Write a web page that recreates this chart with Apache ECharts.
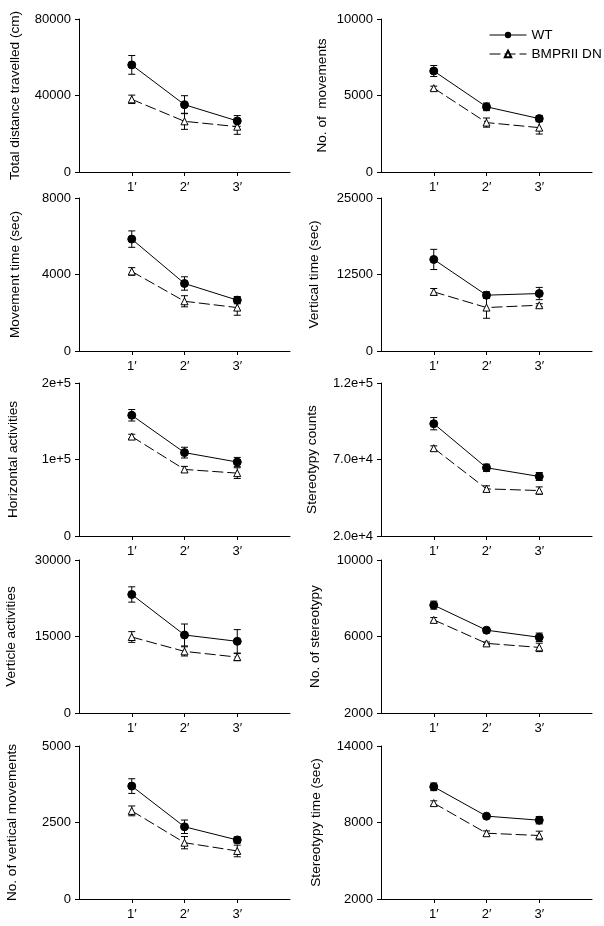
<!DOCTYPE html>
<html>
<head>
<meta charset="utf-8">
<script src="https://cdn.jsdelivr.net/npm/echarts@6/dist/echarts.min.js"></script>
<style>
  html, body { margin: 0; padding: 0; background: #fff; }
  #chart { width: 604px; height: 926px; }
</style>
</head>
<body>
<div id="chart"></div>
<script>
// session time points (x positions 1..3 on a 0..4 axis)
const timePoints = ['1′', '2′', '3′'];
const seriesNames = ['WT', 'BMPRII DN'];

// panels, row by row (left, right)
const panelNames = [
  'Total distance travelled (cm)', 'No. of  movements',
  'Movement time (sec)', 'Vertical time (sec)',
  'Horizontal activities', 'Stereotypy counts',
  'Verticle activities', 'No. of stereotypy',
  'No. of vertical movements', 'Stereotypy time (sec)'
];
const yMin = [0, 0, 0, 0, 0, 20000, 0, 2000, 0, 2000];
const yMax = [80000, 10000, 8000, 25000, 200000, 120000, 30000, 10000, 5000, 14000];
const yStep = [40000, 5000, 4000, 12500, 100000, 50000, 15000, 4000, 2500, 6000];
const yTicks = [
  ['0', '40000', '80000'], ['0', '5000', '10000'],
  ['0', '4000', '8000'], ['0', '12500', '25000'],
  ['0', '1e+5', '2e+5'], ['2.0e+4', '7.0e+4', '1.2e+5'],
  ['0', '15000', '30000'], ['2000', '6000', '10000'],
  ['0', '2500', '5000'], ['2000', '8000', '14000']
];

// means and SEM per panel
const wtMean = [
  [56000, 35200, 26700], [6600, 4260, 3490],
  [5850, 3530, 2660], [14960, 9120, 9390],
  [157800, 109000, 96700], [93400, 64600, 58900],
  [23240, 15300, 14050], [7640, 6330, 5960],
  [3690, 2360, 1930], [10800, 8500, 8180]
];
const wtSem = [
  [4900, 4700, 2800], [360, 250, 200],
  [430, 350, 190], [1650, 550, 1000],
  [7500, 7000, 6000], [4000, 2400, 2600],
  [1500, 2150, 2300], [210, 140, 220],
  [240, 220, 100], [300, 130, 290]
];
const dnMean = [
  [38000, 26500, 23700], [5480, 3230, 2900],
  [4160, 2600, 2270], [9660, 7100, 7480],
  [130000, 87000, 82200], [77400, 50800, 49700],
  [14900, 12080, 10960], [6870, 5640, 5430],
  [2880, 1840, 1570], [9520, 7160, 6980]
];
const dnSem = [
  [2200, 4200, 4000], [130, 300, 420],
  [200, 290, 400], [550, 1750, 250],
  [3000, 4000, 7000], [1500, 2000, 2400],
  [1050, 900, 700], [120, 70, 220],
  [160, 200, 190], [180, 180, 340]
];

const colLeft = [79, 381];
const rowTop = [19, 198, 383, 560, 746];
const nameGaps = [57, 52, 57, 60, 59, 62, 61, 59, 60, 58];

const chart = echarts.init(document.getElementById('chart'));

const txt = { color: '#000', fontSize: 13, fontFamily: 'Liberation Sans, Arial, sans-serif' };
const nameTxt = Object.assign({}, txt, { fontSize: 13.6 });

function errorBars(p, means, sems) {
  return {
    type: 'custom',
    xAxisIndex: p,
    yAxisIndex: p,
    z: 1,
    silent: true,
    encode: { x: 0, y: [1, 2] },
    data: means.map((m, i) => [i + 1, m - sems[i], m + sems[i]]),
    renderItem: function (params, api) {
      const x = api.value(0);
      const lo = api.coord([x, api.value(1)]);
      const hi = api.coord([x, api.value(2)]);
      const hw = 3.5;
      const st = { stroke: '#000', lineWidth: 1 };
      return {
        type: 'group',
        children: [
          { type: 'line', shape: { x1: lo[0], y1: lo[1], x2: hi[0], y2: hi[1] }, style: st },
          { type: 'line', shape: { x1: lo[0] - hw, y1: lo[1], x2: lo[0] + hw, y2: lo[1] }, style: st },
          { type: 'line', shape: { x1: hi[0] - hw, y1: hi[1], x2: hi[0] + hw, y2: hi[1] }, style: st }
        ]
      };
    }
  };
}

const grids = [], xAxes = [], yAxes = [], series = [];

for (let p = 0; p < panelNames.length; p++) {
  const r = Math.floor(p / 2), c = p % 2;
  grids.push({ left: colLeft[c], top: rowTop[r], width: 211, height: 153 });

  xAxes.push({
    type: 'value', gridIndex: p, min: 0, max: 4,
    splitLine: { show: false },
    axisLine: { lineStyle: { color: '#000', width: 1 } },
    axisTick: { length: 4, customValues: [1, 2, 3], lineStyle: { color: '#000' } },
    axisLabel: Object.assign({
      margin: 9,
      customValues: [1, 2, 3],
      formatter: v => timePoints[Math.round(v) - 1]
    }, txt)
  });

  yAxes.push({
    type: 'value', gridIndex: p,
    min: yMin[p], max: yMax[p], interval: yStep[p],
    splitLine: { show: false },
    axisLine: { show: true, lineStyle: { color: '#000', width: 1 } },
    axisTick: { show: true, length: 4, lineStyle: { color: '#000' } },
    axisLabel: Object.assign({
      margin: 8,
      formatter: v => yTicks[p][Math.round((v - yMin[p]) / yStep[p])]
    }, txt),
    name: panelNames[p],
    nameLocation: 'middle',
    nameGap: nameGaps[p],
    nameTextStyle: nameTxt
  });

  series.push(errorBars(p, wtMean[p], wtSem[p]));
  series.push(errorBars(p, dnMean[p], dnSem[p]));

  series.push({
    name: seriesNames[1], type: 'line', xAxisIndex: p, yAxisIndex: p, z: 2,
    data: dnMean[p].map((v, i) => [i + 1, v]),
    symbol: 'triangle', symbolSize: 7,
    lineStyle: { color: '#000', width: 1, type: [11, 4] },
    itemStyle: { color: '#fff', borderColor: '#000', borderWidth: 1 },
    emphasis: { disabled: true }
  });
  series.push({
    name: seriesNames[0], type: 'line', xAxisIndex: p, yAxisIndex: p, z: 3,
    data: wtMean[p].map((v, i) => [i + 1, v]),
    symbol: 'circle', symbolSize: 8,
    lineStyle: { color: '#000', width: 1 },
    itemStyle: { color: '#000', borderColor: '#000' },
    emphasis: { disabled: true }
  });
}

chart.setOption({
  animation: false,
  backgroundColor: '#fff',
  legend: {
    data: seriesNames,
    orient: 'vertical',
    left: 484, top: 23,
    itemWidth: 37, itemHeight: 8, itemGap: 5,
    lineStyle: { width: 1 },
    textStyle: nameTxt,
    selectedMode: false
  },
  grid: grids,
  xAxis: xAxes,
  yAxis: yAxes,
  series: series
});
</script>
</body>
</html>
